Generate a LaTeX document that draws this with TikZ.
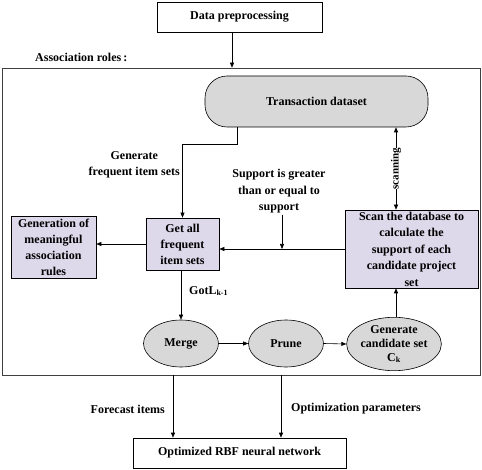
\documentclass[tikz,border=0pt]{standalone}
\usepackage{fontspec}
\setmainfont{Liberation Serif}
\usepackage{tikz}
\usepackage{xcolor}
\usetikzlibrary{arrows.meta,shapes.geometric,positioning}
\definecolor{flowLilac}{RGB}{221,216,234}
\definecolor{flowGray}{RGB}{216,216,216}

\begin{document}
\begin{tikzpicture}[x=1pt, y=-1pt,
    every node/.style={font=\fontsize{12}{16}\selectfont\bfseries},
    plainbox/.style={draw, semithick, fill=white, minimum width=#1, minimum height=30pt, inner sep=1pt},
    lilacbox/.style={draw, semithick, fill=flowLilac, align=center, inner sep=1pt},
    grayoval/.style={draw, semithick, fill=flowGray, ellipse, align=center, inner sep=0pt},
    arr/.style={-{Triangle[length=5pt,width=4pt]}, semithick},
    lbl/.style={align=center, inner sep=1pt}]
    \useasboundingbox (0,0) rectangle (482,470);
    % outer blocks
    \node[plainbox=165pt] (prep) at (239.5,17) {Data preprocessing};
    \node[draw, semithick, black!75, minimum width=478pt, minimum height=307pt] (frame) at (241,221.5) {};
    \node[anchor=west, inner sep=0pt] (assoc) at (35,57) {Association roles\,:};
    \node[plainbox=213pt] (rbf) at (239.5,453) {Optimized RBF neural network};
    % inside the frame
    \node[draw, semithick, fill=flowGray, rounded corners=22pt, minimum width=223pt, minimum height=51pt] (trans) at (316.5,101.5) {Transaction dataset};
    \node[lilacbox, minimum width=73pt, minimum height=52pt] (getall) at (182.5,244) {Get all\\frequent\\item sets};
    \node[lilacbox, minimum width=85pt, minimum height=62pt] (meaning) at (53.5,247) {Generation of\\meaningful\\association\\rules};
    \node[lilacbox, minimum width=133pt, minimum height=78pt, font=\fontsize{12}{16.5}\selectfont\bfseries] (scan) at (411.5,249) {Scan the database to\\calculate the\\support of each\\candidate project\\set};
    \node[grayoval, minimum width=75pt, minimum height=47pt] (merge) at (181,343.5) {Merge};
    \node[grayoval, minimum width=75pt, minimum height=47pt] (prune) at (286,343.5) {Prune};
    \node[grayoval, minimum width=74pt, minimum height=52pt, font=\fontsize{12}{14}\selectfont\bfseries] (cand) at (394,344) {Generate\\candidate set\\C\textsubscript{k}};
    % labels
    \node[lbl, anchor=east] (genlbl) at (181,165) {Generate\\frequent item sets};
    \node[lbl, font=\fontsize{12}{16.5}\selectfont\bfseries] (suplbl) at (279,191.5) {Support is greater\\than or equal to\\support};
    \node[lbl, anchor=west] (gotlbl) at (188,291) {GotL\textsubscript{k-1}};
    \node[lbl, anchor=east] (forelbl) at (166,409) {Forecast items};
    \node[lbl, anchor=west] (optlbl) at (290,409) {Optimization parameters};
    % connectors
    \draw[arr] ([xshift=-7.5pt]prep.south) -- ([xshift=-9pt]frame.north);
    \draw[arr] ([xshift=-79.5pt]trans.south) -- ++(0,17) -| (getall.north);
    \draw[{Triangle[length=5pt,width=4pt]}-{Triangle[length=5pt,width=4pt]}, semithick] ([xshift=-15.5pt]scan.north) -- ([xshift=79.5pt]trans.south)
        node[midway, rotate=90, fill=white, inner sep=0pt, font=\fontsize{11}{11}\selectfont\bfseries] (scanlbl) {scanning};
    \draw[arr] (scan.west) -- (scan.west -| getall.east);
    \draw[arr] ([xshift=3pt]suplbl.south) -- ([xshift=3pt]suplbl.south |- scan.west);
    \draw[arr] (getall.west) -- (getall.west -| meaning.east);
    \draw[arr] ([xshift=-1.5pt]getall.south) -- (merge.north);
    \draw[arr] (merge.east) -- (prune.west);
    \draw[arr] (prune.east) -- (cand.west);
    \draw[arr] ([xshift=2pt]cand.north) -- ([xshift=2pt]cand.north |- scan.south);
    \draw[arr] ([xshift=-68pt]frame.south) -- ([xshift=-68pt]frame.south |- rbf.north);
    \draw[arr] ([xshift=40pt]frame.south) -- ([xshift=40pt]frame.south |- rbf.north);
\end{tikzpicture}
\end{document}
